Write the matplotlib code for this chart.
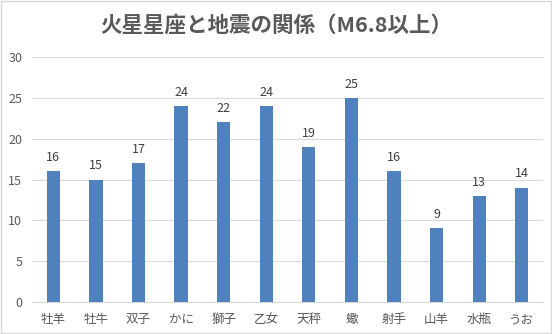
import matplotlib
matplotlib.use("Agg")
import matplotlib.pyplot as plt
from matplotlib.patches import Rectangle

plt.rcParams['font.family'] = ['Noto Sans CJK JP', 'DejaVu Sans']

categories = ["牡羊", "牡牛", "双子", "かに", "獅子", "乙女", "天秤", "蠍", "射手", "山羊", "水瓶", "うお"]
values = [16, 15, 17, 24, 22, 24, 19, 25, 16, 9, 13, 14]
title = "火星星座と地震の関係（M6.8以上）"

fig = plt.figure(figsize=(5.52, 3.34), dpi=100)
ax = fig.add_axes([0.058, 0.096, 0.926, 0.733])

x = range(len(categories))
bars = ax.bar(x, values, width=0.31, color="#4F81BD", zorder=3)
for xi, v in zip(x, values):
    ax.text(xi, v + 0.9, str(v), ha="center", va="bottom", fontsize=9, color="#404040")

ax.set_xlim(-0.5, len(categories) - 0.5)
ax.set_ylim(0, 30)
ax.set_yticks(range(0, 31, 5))
ax.grid(axis="y", color="#D9D9D9", linewidth=0.8, zorder=0)
ax.set_xticks(list(x))
ax.set_xticklabels(categories)
ax.tick_params(axis="both", length=0, labelsize=9, colors="#595959")
ax.tick_params(axis="x", pad=8)
ax.tick_params(axis="y", pad=7)
for s in ["top", "right", "left"]:
    ax.spines[s].set_visible(False)
ax.spines["bottom"].set_color("#D9D9D9")

fig.text(0.5, 0.925, title, ha="center", va="center", fontsize=15.5, fontweight="bold", color="#595959")
fig.patches.append(Rectangle((0.001, 0.002), 0.997, 0.995, transform=fig.transFigure,
                             fill=False, edgecolor="#D9D9D9", linewidth=1))

fig.savefig("out.png", dpi=100)
